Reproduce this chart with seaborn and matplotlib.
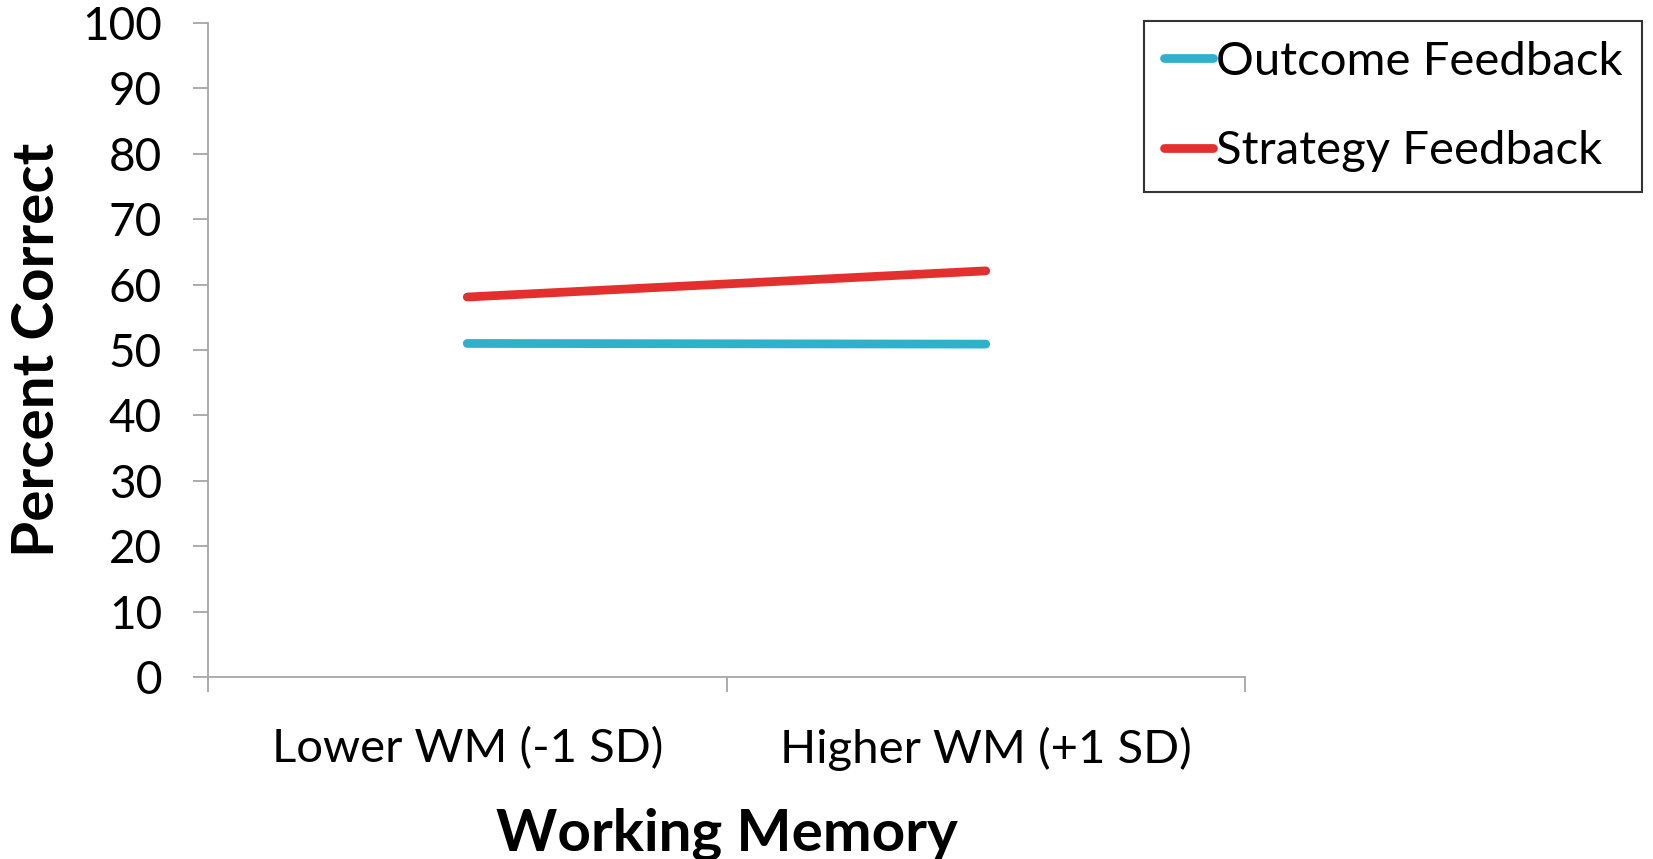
"""Percent correct by working memory level and feedback type."""
import numpy as np
import matplotlib
matplotlib.use("Agg")
import matplotlib.pyplot as plt
import seaborn as sns
import pandas as pd

# data
wm_levels = ["Lower WM (-1 SD)", "Higher WM (+1 SD)"]
outcome_feedback = [51.0, 50.9]
strategy_feedback = [58.1, 62.1]
series_names = ["Outcome Feedback", "Strategy Feedback"]
colors = ["#2FB0CB", "#E3302E"]

df = pd.DataFrame({
    "wm": wm_levels * 2,
    "pos": list(range(len(wm_levels))) * 2,
    "correct": outcome_feedback + strategy_feedback,
    "feedback": [series_names[0]] * 2 + [series_names[1]] * 2,
})

sns.set_style("white")
plt.rcParams["font.family"] = ["Lato", "DejaVu Sans"]
plt.rcParams["text.color"] = "black"
plt.rcParams["axes.labelcolor"] = "black"
plt.rcParams["xtick.labelcolor"] = "black"
plt.rcParams["ytick.labelcolor"] = "black"

fig = plt.figure(figsize=(16.53, 8.59), dpi=100)
ax = fig.add_axes([208 / 1653, 1 - 677 / 859, (1245 - 208) / 1653, (677 - 23) / 859])

sns.lineplot(data=df, x="pos", y="correct", hue="feedback", hue_order=series_names,
             palette=colors, linewidth=6.3, ax=ax, legend=False,
             solid_capstyle="round")

# axes styled like the spreadsheet original
ax.set_xlim(-0.5, len(wm_levels) - 0.5)
ax.set_ylim(0, 100)
ax.set_yticks(np.arange(0, 101, 10))
ax.set_xticks(np.arange(-0.5, len(wm_levels), 1.0))
ax.set_xticklabels([])
ax.set_xticks(range(len(wm_levels)), minor=True)
ax.set_xticklabels(wm_levels, minor=True)
ax.tick_params(axis="x", which="minor", length=0, pad=36, labelsize=34)
ax.tick_params(axis="x", which="major", length=11, width=1.3, color="#A6A6A6", direction="out")
ax.tick_params(axis="y", length=11, width=1.3, color="#A6A6A6", direction="out",
               labelsize=33, pad=22)
ax.tick_params(bottom=True, left=True)
for side in ["top", "right"]:
    ax.spines[side].set_visible(False)
for side in ["left", "bottom"]:
    ax.spines[side].set_color("#A6A6A6")
    ax.spines[side].set_linewidth(1.3)

ax.set_xlabel("Working Memory", fontsize=42, fontweight="bold", labelpad=26)
ax.set_ylabel("Percent Correct", fontsize=42, fontweight="bold", labelpad=13)

handles = [plt.Line2D([], [], color=c, linewidth=6.3, solid_capstyle="round") for c in colors]
leg = fig.legend(handles, series_names, loc="upper left",
                 bbox_to_anchor=(1144 / 1653, 1 - 21 / 859), fontsize=34,
                 handlelength=1.05, handletextpad=0.05, labelspacing=1.0,
                 borderpad=0.42, borderaxespad=0, fancybox=False, frameon=True)
leg.get_frame().set_edgecolor("black")
leg.get_frame().set_linewidth(1.5)

fig.savefig("out.png", dpi=100)
